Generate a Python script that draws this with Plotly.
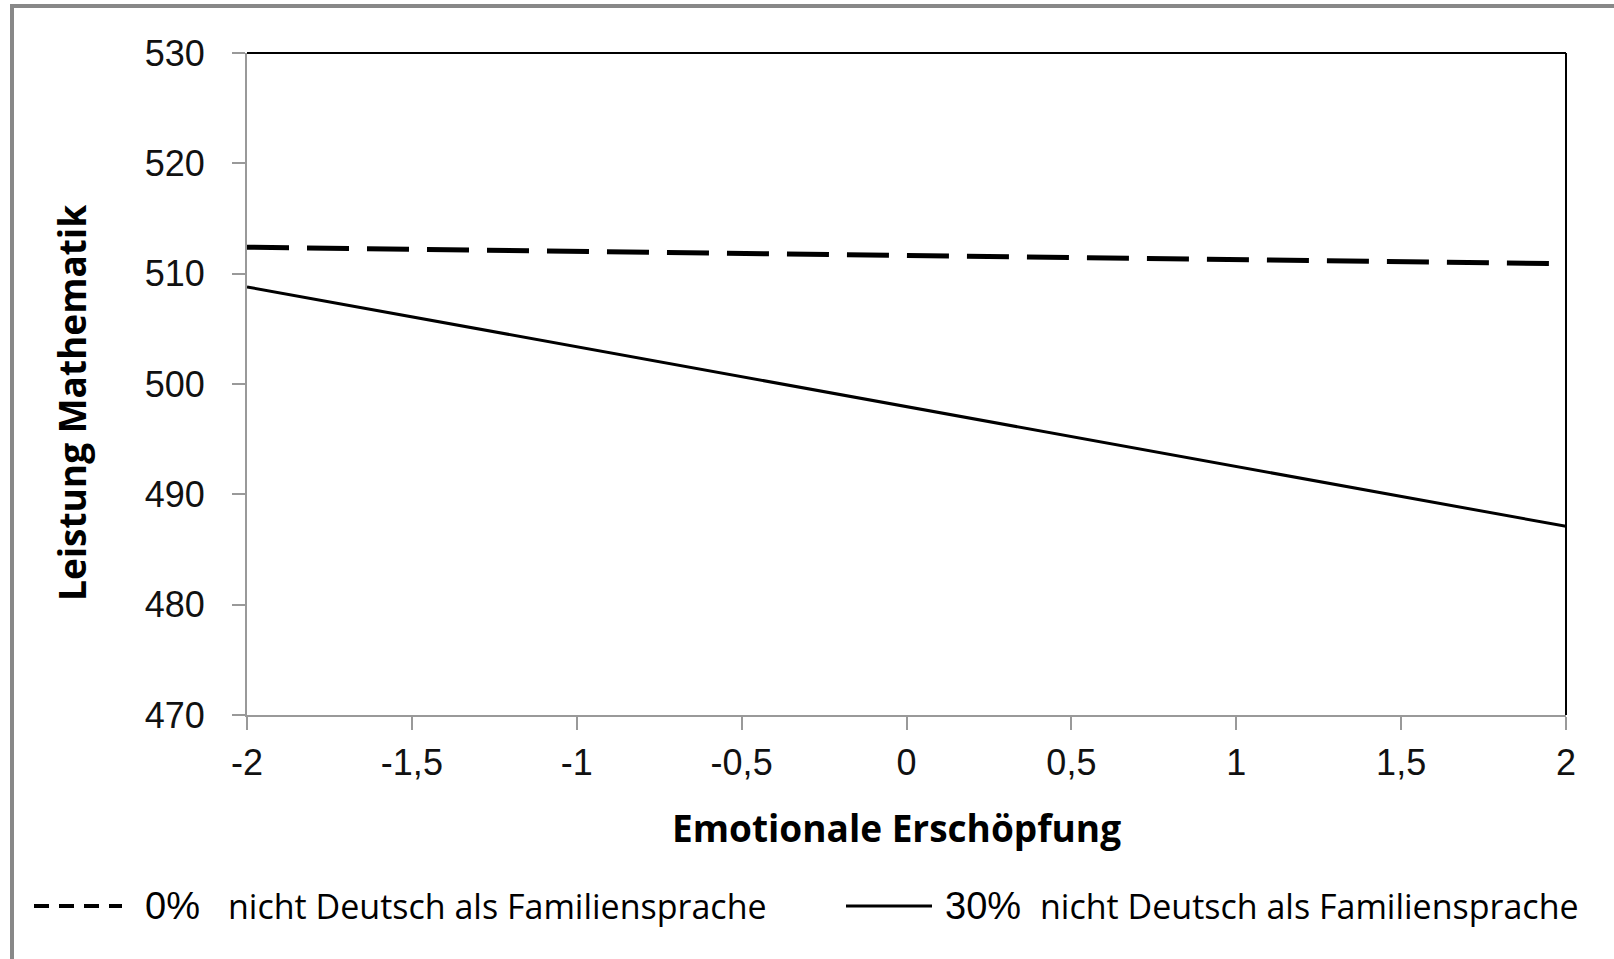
import plotly.graph_objects as go

# Data
x_vals = [-2, 2]
y_0pct = [512.4, 510.9]
y_30pct = [508.8, 487.1]
x_ticks = [-2, -1.5, -1, -0.5, 0, 0.5, 1, 1.5, 2]
x_ticktext = ["-2", "-1,5", "-1", "-0,5", "0", "0,5", "1", "1,5", "2"]
y_ticks = [470, 480, 490, 500, 510, 520, 530]
y_ticktext = ["470", "480", "490", "500", "510", "520", "530"]
legend_pct = ["0%", "30%"]
legend_text = "nicht Deutsch als Familiensprache"
x_title = "Emotionale Erschöpfung"
y_title = "Leistung Mathematik"

W, H = 1614, 959
L, R, T, B = 247, 1566, 53, 715

def px(x):
    return (x - L) / (R - L)

def py(y):
    return (B - y) / (B - T)

fig = go.Figure()
fig.add_trace(go.Scatter(x=x_vals, y=y_0pct, mode="lines",
                         line=dict(color="black", width=5, dash="42px,18px"),
                         showlegend=False))
fig.add_trace(go.Scatter(x=x_vals, y=y_30pct, mode="lines",
                         line=dict(color="black", width=3),
                         showlegend=False))

tickfont = dict(family="Liberation Sans, Arial", size=36, color="#111")
fig.update_xaxes(range=[-2, 2], tickvals=x_ticks, ticktext=x_ticktext,
                 showgrid=False, zeroline=False, showline=True,
                 linecolor="#999", linewidth=2, ticks="outside", ticklen=13,
                 tickcolor="#999", tickwidth=2, tickfont=tickfont,
                 ticklabelstandoff=2)
fig.update_yaxes(range=[470, 530], tickvals=y_ticks, ticktext=y_ticktext,
                 showgrid=False, zeroline=False, showline=True,
                 linecolor="#999", linewidth=2, ticks="outside", ticklen=13,
                 tickcolor="#999", tickwidth=2, tickfont=tickfont,
                 ticklabelstandoff=20)

shapes = [
    dict(type="line", xref="paper", yref="paper", x0=0, x1=1, y0=1, y1=1,
         line=dict(color="black", width=2)),
    dict(type="line", xref="paper", yref="paper", x0=1, x1=1, y0=0, y1=1,
         line=dict(color="black", width=2)),
    dict(type="line", xref="paper", yref="paper", x0=px(12), x1=px(12), y0=py(5), y1=py(965),
         line=dict(color="#888", width=4)),
    dict(type="line", xref="paper", yref="paper", x0=px(10), x1=px(1620), y0=py(6), y1=py(6),
         line=dict(color="#888", width=4)),
    dict(type="line", xref="paper", yref="paper", x0=px(34), x1=px(122), y0=py(906), y1=py(906),
         line=dict(color="black", width=4, dash="15px,10px")),
    dict(type="line", xref="paper", yref="paper", x0=px(846), x1=px(932), y0=py(906), y1=py(906),
         line=dict(color="black", width=3)),
]

title_font = dict(family="Open Sans", size=37, color="black", weight="bold")
legend_font = dict(family="Open Sans", size=34, color="black")
pct_font = dict(family="Liberation Sans, Arial", size=38, color="black")

annotations = [
    dict(text=x_title, xref="paper", yref="paper", x=px(896), y=py(827),
         xanchor="center", yanchor="middle", showarrow=False, font=title_font),
    dict(text=y_title, xref="paper", yref="paper", x=px(72), y=py(403),
         xanchor="center", yanchor="middle", showarrow=False, textangle=-90,
         font=title_font),
    dict(text=legend_pct[0], xref="paper", yref="paper", x=px(143), y=py(906),
         xanchor="left", yanchor="middle", showarrow=False, font=pct_font),
    dict(text=legend_text, xref="paper", yref="paper", x=px(226), y=py(906),
         xanchor="left", yanchor="middle", showarrow=False, font=legend_font),
    dict(text=legend_pct[1], xref="paper", yref="paper", x=px(943), y=py(906),
         xanchor="left", yanchor="middle", showarrow=False, font=pct_font),
    dict(text=legend_text, xref="paper", yref="paper", x=px(1038), y=py(906),
         xanchor="left", yanchor="middle", showarrow=False, font=legend_font),
]

fig.update_layout(width=W, height=H, margin=dict(l=L, r=W - R, t=T, b=H - B, pad=0),
                  paper_bgcolor="white", plot_bgcolor="white",
                  shapes=shapes, annotations=annotations, showlegend=False)

fig.write_html("out.html", config={"displayModeBar": False},
               post_script="document.body.style.margin='0';")
